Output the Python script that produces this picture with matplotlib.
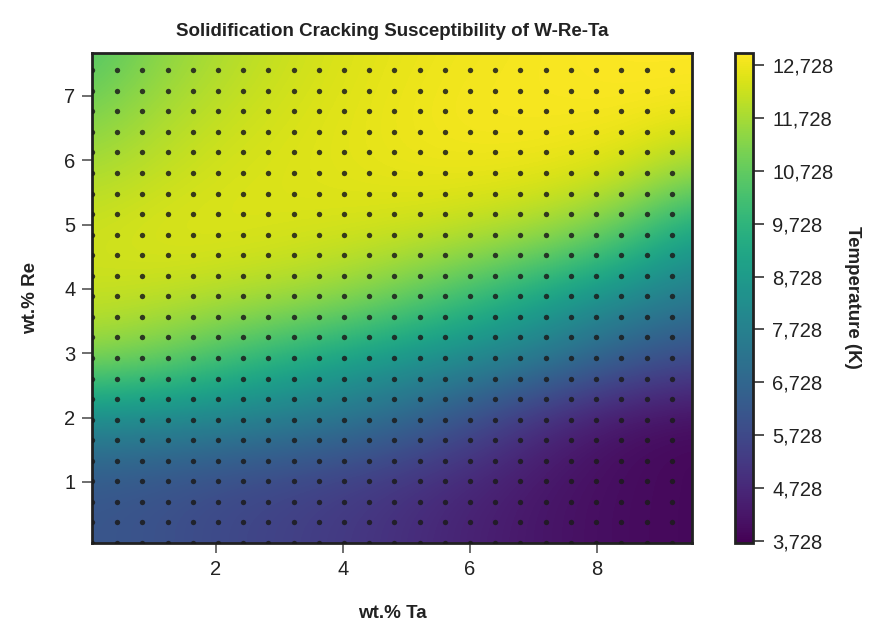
import matplotlib
matplotlib.use("Agg")
import matplotlib.pyplot as plt
import numpy as np

plt.rcParams['font.family'] = ['Liberation Sans Narrow', 'Liberation Sans', 'DejaVu Sans']

# coarse temperature field (K), rows bottom -> top
ta_nodes = np.linspace(0.05, 9.5, 10)
re_nodes = np.linspace(0.05, 7.67, 9)
temperature = np.array([
    [6190, 6010, 5730, 5450, 5170, 4800, 4430, 4150, 3970, 3880],
    [6190, 6010, 5730, 5540, 5270, 4900, 4520, 4150, 3970, 3880],
    [8050, 7950, 7770, 7490, 7120, 6470, 5540, 4620, 4060, 3880],
    [11300, 10900, 10150, 9450, 8850, 8330, 7860, 7210, 6290, 5730],
    [12200, 12100, 11900, 11700, 11290, 10550, 9720, 8790, 8050, 7400],
    [12310, 12500, 12500, 12400, 12310, 12130, 11850, 11380, 10360, 8790],
    [11850, 12130, 12400, 12500, 12590, 12680, 12680, 12590, 12310, 11380],
    [11110, 11760, 12130, 12400, 12590, 12780, 12870, 12870, 12870, 12780],
    [10360, 11290, 11850, 12220, 12500, 12680, 12780, 12870, 12960, 12960],
])

# sample points of the composition grid
ta_points = 0.05 + 0.397 * np.arange(24)
re_points = 0.05 + 0.3195 * np.arange(24)

cbar_ticks = np.arange(3728, 12729, 1000)
vmin, vmax = 3690, 12960

fig = plt.figure(figsize=(8.7, 6.26), dpi=100)
ax = fig.add_axes([0.1057, 0.1326, 0.6897, 0.7832])
cax = fig.add_axes([0.845, 0.1326, 0.0205, 0.7832])

dx = ta_nodes[1] - ta_nodes[0]
dy = re_nodes[1] - re_nodes[0]
im = ax.imshow(temperature, origin='lower', cmap='viridis', vmin=vmin, vmax=vmax,
               extent=[ta_nodes[0] - dx / 2, ta_nodes[-1] + dx / 2,
                       re_nodes[0] - dy / 2, re_nodes[-1] + dy / 2],
               interpolation='bicubic', aspect='auto')

gx, gy = np.meshgrid(ta_points, re_points)
ax.scatter(gx.ravel(), gy.ravel(), s=15, color='#1c1c1c', alpha=0.85, linewidths=0, zorder=3)

ax.set_xlim(0.05, 9.5)
ax.set_ylim(0.05, 7.67)
ax.set_xticks([2, 4, 6, 8])
ax.set_yticks([1, 2, 3, 4, 5, 6, 7])
ax.tick_params(axis='both', direction='out', length=7, width=1.2, color='#555555',
               labelsize=14.5, pad=5, labelcolor='#222222')
for sp in ax.spines.values():
    sp.set_linewidth(2)
    sp.set_color('#222222')

ax.set_title('Solidification Cracking Susceptibility of W-Re-Ta', fontsize=13.5,
             fontweight='bold', pad=12, color='#222222')
ax.set_xlabel('wt.% Ta', fontsize=13.5, fontweight='bold', labelpad=19, color='#222222')
ax.set_ylabel('wt.% Re', fontsize=13.5, fontweight='bold', labelpad=18, color='#222222')

cb = fig.colorbar(im, cax=cax)
cb.set_ticks(cbar_ticks)
cb.set_ticklabels([f'{t:,}' for t in cbar_ticks])
cb.outline.set_linewidth(2)
cb.outline.set_edgecolor('#222222')
cax.tick_params(length=8, width=1.2, color='#333333', labelsize=14.5, pad=6, labelcolor='#222222')
cb.set_label('Temperature (K)', rotation=270, fontsize=13.5, fontweight='bold',
             labelpad=20, color='#222222')

fig.savefig('out.png', dpi=100)
